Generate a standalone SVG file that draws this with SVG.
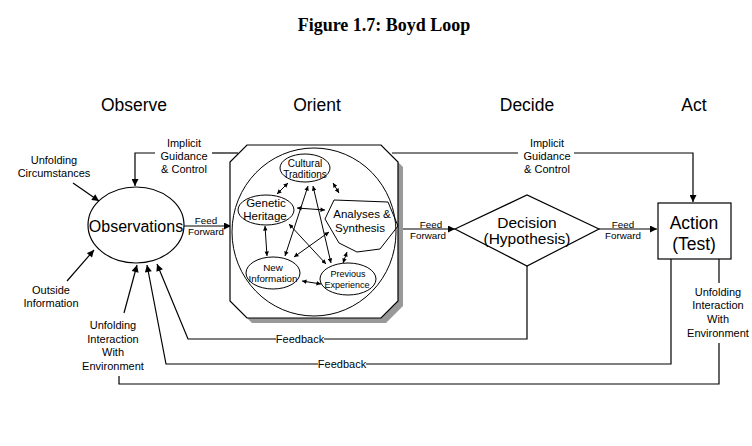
<svg xmlns="http://www.w3.org/2000/svg" width="752" height="446" viewBox="0 0 752 446">
<style>
text{font-family:"Liberation Sans",Arial,sans-serif;fill:#000;text-anchor:middle}
.title{font-family:"Liberation Serif","Times New Roman",serif;font-weight:bold;font-size:18px}
.hdr{font-size:17.5px}
.lbl{font-size:11px}
.ff{font-size:9.8px}
.ln{fill:none;stroke:#000;stroke-width:1.2}
.sh{fill:#fff;stroke:#000;stroke-width:1.2}
.in{fill:none;stroke:#000;stroke-width:1}
</style>
<defs>
<marker id="ah" viewBox="0 0 10 10" refX="10" refY="5" markerWidth="8" markerHeight="7" orient="auto-start-reverse" markerUnits="userSpaceOnUse"><path d="M0,0 L10,5 L0,10 z" fill="#000"/></marker>
<marker id="sa" viewBox="0 0 10 10" refX="10" refY="5" markerWidth="5" markerHeight="4.5" orient="auto-start-reverse" markerUnits="userSpaceOnUse"><path d="M0,0 L10,5 L0,10 z" fill="#000"/></marker>
</defs>
<rect width="752" height="446" fill="#fff"/>
<text class="title" x="384" y="31">Figure 1.7: Boyd Loop</text>
<g id="headers">
<text class="hdr" x="134" y="111">Observe</text>
<text class="hdr" x="317" y="111">Orient</text>
<text class="hdr" x="527" y="111">Decide</text>
<text class="hdr" x="694" y="111">Act</text>
</g>
<g id="connectors">
<polyline class="ln" points="155,153 135,153 135,186" marker-end="url(#ah)"/>
<line class="ln" x1="212" y1="153" x2="238" y2="153"/>
<line class="ln" x1="392" y1="153" x2="518" y2="153"/>
<polyline class="ln" points="574,153 693,153 693,202" marker-end="url(#ah)"/>
<line class="ln" x1="73" y1="183" x2="99" y2="201" marker-end="url(#ah)"/>
<line class="ln" x1="67" y1="281" x2="94" y2="250" marker-end="url(#ah)"/>
<line class="ln" x1="124" y1="313" x2="137" y2="265" marker-end="url(#ah)"/>
<line class="ln" x1="184" y1="226" x2="231" y2="226" marker-end="url(#ah)"/>
<line class="ln" x1="398" y1="229" x2="455" y2="229" marker-end="url(#ah)"/>
<line class="ln" x1="599" y1="229" x2="657" y2="229" marker-end="url(#ah)"/>
<polyline class="ln" points="527,266 527,339 324,339"/>
<polyline class="ln" points="276,339 188,339 157,264" marker-end="url(#ah)"/>
<polyline class="ln" points="671,259 671,364 366,364"/>
<polyline class="ln" points="318,364 166,364 147,265" marker-end="url(#ah)"/>
<line class="ln" x1="719" y1="259" x2="719" y2="283"/>
<polyline class="ln" points="719,343 719,384 119,384 119,376"/>
<text class="lbl" x="184" y="147">Implicit</text>
<text class="lbl" x="184" y="160">Guidance</text>
<text class="lbl" x="184" y="173">&amp; Control</text>
<text class="lbl" x="547" y="147">Implicit</text>
<text class="lbl" x="547" y="160">Guidance</text>
<text class="lbl" x="547" y="173">&amp; Control</text>
<text class="lbl" x="54" y="164">Unfolding</text>
<text class="lbl" x="54" y="177">Circumstances</text>
<text class="lbl" x="51" y="294">Outside</text>
<text class="lbl" x="51" y="307">Information</text>
<text class="lbl" x="113" y="329">Unfolding</text>
<text class="lbl" x="113" y="343">Interaction</text>
<text class="lbl" x="113" y="356">With</text>
<text class="lbl" x="113" y="370">Environment</text>
<text class="lbl" x="718" y="296">Unfolding</text>
<text class="lbl" x="718" y="309">Interaction</text>
<text class="lbl" x="718" y="323">With</text>
<text class="lbl" x="718" y="337">Environment</text>
<text class="ff" x="206" y="224">Feed</text>
<text class="ff" x="206" y="235">Forward</text>
<text class="ff" x="431" y="228">Feed</text>
<text class="ff" x="428" y="239">Forward</text>
<text class="ff" x="623" y="228">Feed</text>
<text class="ff" x="623" y="239">Forward</text>
<text class="lbl" x="300" y="343">Feedback</text>
<text class="lbl" x="342" y="368">Feedback</text>
</g>
<g id="observations">
<ellipse class="sh" cx="136" cy="225" rx="48" ry="38"/>
<text x="136" y="232" font-size="16">Observations</text>
</g>
<g id="orient">
<polygon points="252,150 386,150 403,167 403,306 386,323 252,323 235,306 235,167" fill="#999"/>
<polygon class="sh" points="247,145 381,145 398,162 398,301 381,318 247,318 230,301 230,162"/>
<ellipse class="in" cx="314" cy="232" rx="82" ry="84"/>
</g>
<g id="cultural">
<ellipse class="in" cx="305" cy="168" rx="25" ry="14"/>
<text x="305" y="167" font-size="10">Cultural</text>
<text x="305" y="178" font-size="10">Traditions</text>
</g>
<g id="genetic">
<ellipse class="in" cx="266" cy="210" rx="28" ry="15"/>
<text x="266" y="207" font-size="11.5">Genetic</text>
<text x="265" y="220" font-size="11.5">Heritage</text>
</g>
<g id="analyses">
<polygon class="in" points="334,200 388,202 398,226 380,249 357,252 339,243 325,219"/>
<text x="362" y="218" font-size="11.5">Analyses &amp;</text>
<text x="360" y="232" font-size="11.5">Synthesis</text>
</g>
<g id="newinfo">
<ellipse class="in" cx="273" cy="273" rx="27" ry="16"/>
<text x="273" y="271" font-size="9.8">New</text>
<text x="273" y="282" font-size="9.8">Information</text>
</g>
<g id="previous">
<ellipse class="in" cx="348" cy="279" rx="28" ry="16"/>
<text x="348" y="277" font-size="9">Previous</text>
<text x="347" y="288" font-size="9">Experience</text>
</g>
<g id="inner-connectors">
<line class="in" x1="288" y1="183" x2="277" y2="194" marker-start="url(#sa)" marker-end="url(#sa)"/>
<line class="in" x1="333" y1="183" x2="339" y2="193" marker-start="url(#sa)" marker-end="url(#sa)"/>
<line class="in" x1="297" y1="208" x2="325" y2="210" marker-start="url(#sa)" marker-end="url(#sa)"/>
<line class="in" x1="265" y1="226" x2="267" y2="256" marker-start="url(#sa)" marker-end="url(#sa)"/>
<line class="in" x1="302" y1="281" x2="321" y2="284" marker-start="url(#sa)" marker-end="url(#sa)"/>
<line class="in" x1="347" y1="252" x2="343" y2="263" marker-start="url(#sa)" marker-end="url(#sa)"/>
<line class="in" x1="308" y1="186" x2="285" y2="256" marker-start="url(#sa)" marker-end="url(#sa)"/>
<line class="in" x1="313" y1="186" x2="331" y2="263" marker-start="url(#sa)" marker-end="url(#sa)"/>
<line class="in" x1="289" y1="224" x2="326" y2="264" marker-start="url(#sa)" marker-end="url(#sa)"/>
<line class="in" x1="329" y1="232" x2="294" y2="257" marker-start="url(#sa)" marker-end="url(#sa)"/>
</g>
<g id="decision">
<polygon class="sh" points="455,229 527,195 599,229 527,266"/>
<text x="527" y="228" font-size="15.5">Decision</text>
<text x="527" y="244" font-size="15.5">(Hypothesis)</text>
</g>
<g id="action">
<rect class="sh" x="658" y="203" width="73" height="56"/>
<text x="694" y="229" font-size="17.5">Action</text>
<text x="694" y="250" font-size="17.5">(Test)</text>
</g>
</svg>
